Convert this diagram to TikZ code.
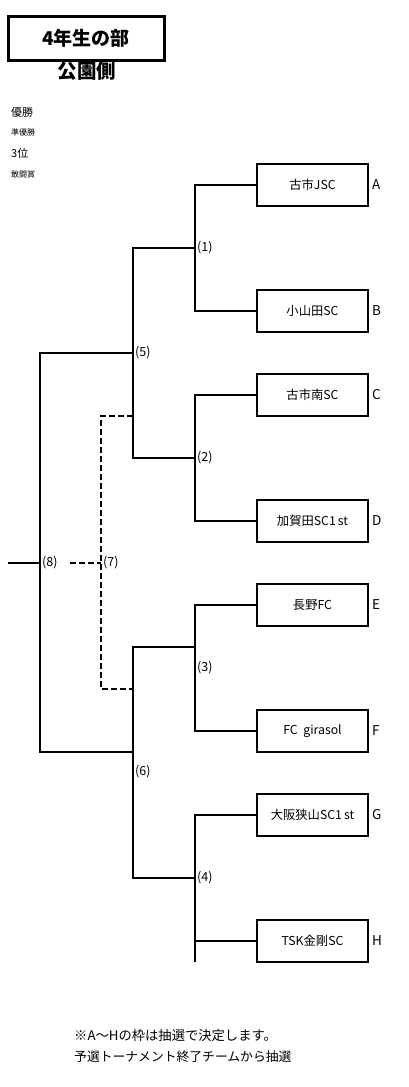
\documentclass[tikz,border=0pt]{standalone}
\usepackage{fontspec}
\setmainfont{Noto Sans CJK JP}
\begin{document}
\begin{tikzpicture}[x=1pt,y=-1pt,
  team/.style={draw,line width=1.8pt,minimum width=111pt,minimum height=42pt,inner sep=0pt,font=\fontsize{12.3}{14}\selectfont},
  letter/.style={anchor=west,inner sep=0pt,font=\fontsize{13.5}{15}\selectfont},
  rnd/.style={anchor=west,inner sep=0pt,font=\fontsize{12.5}{14}\selectfont},
  br/.style={line width=1.8pt},
  dsh/.style={line width=1.6pt,dash pattern=on 6pt off 3pt},
  side/.style={anchor=west,inner sep=0pt}]
\useasboundingbox (0,0) rectangle (409,1087);
% title
\node[draw,line width=3pt,minimum width=156pt,minimum height=44pt,inner sep=0pt,font=\fontsize{19}{21}\selectfont\bfseries] (title) at (86,38) {4年生の部};
\node[inner sep=0pt,font=\fontsize{19.5}{21}\selectfont\bfseries] (side) at (87,71) {公園側};
% legend
\node[side,font=\fontsize{11}{12}\selectfont] (l1) at (11,112) {優勝};
\node[side,font=\fontsize{8}{9}\selectfont] (l2) at (11,132) {準優勝};
\node[side,font=\fontsize{11}{12}\selectfont] (l3) at (11,153) {3位};
\node[side,font=\fontsize{8}{9}\selectfont] (l4) at (11,174) {敢闘賞};
% teams
\node[team] (A) at (312.5,185) {古市JSC};
\node[team] (B) at (312.5,311) {小山田SC};
\node[team] (C) at (312.5,395) {古市南SC};
\node[team] (D) at (312.5,521) {加賀田SC1\,st};
\node[team] (E) at (312.5,605) {長野FC};
\node[team] (F) at (312.5,731) {FC\ \ girasol};
\node[team] (G) at (312.5,815) {大阪狭山SC1\,st};
\node[team] (H) at (312.5,941) {TSK金剛SC};
\foreach \t/\y in {A/185,B/311,C/395,D/521,E/605,F/731,G/815,H/941}
  \node[letter] (L\t) at (372,\y) {\t};
% junction coordinates
\coordinate (j1) at (195,248);
\coordinate (j2) at (195,458);
\coordinate (j3) at (195,647);
\coordinate (j4) at (195,878);
\coordinate (j4b) at (195,962);
\coordinate (k5t) at (133,248);
\coordinate (k5b) at (133,458);
\coordinate (k5) at (133,353);
\coordinate (k6t) at (133,647);
\coordinate (k6b) at (133,878);
\coordinate (k6) at (133,752);
\coordinate (m8t) at (40,353);
\coordinate (m8b) at (40,752);
\coordinate (m8) at (40,563);
\coordinate (fin) at (8,563);
\coordinate (d7t) at (133,416);
\coordinate (d7b) at (133,689);
\coordinate (d7a) at (101,416);
\coordinate (d7c) at (101,689);
\coordinate (d7) at (101,563);
\coordinate (d7s) at (70,563);
% round 1
\draw[br] (A.west) -| (j1);
\draw[br] (B.west) -| (j1);
\draw[br] (C.west) -| (j2);
\draw[br] (D.west) -| (j2);
\draw[br] (E.west) -| (j3);
\draw[br] (F.west) -| (j3) ;
\draw[br] (G.west) -| (j4);
\draw[br] (H.west) -| (j4);
\draw[br] (j4) -- (j4b);
% round 2
\draw[br] (j1) -- (k5t) -- (k5b) -- (j2);
\draw[br] (j3) -- (k6t) -- (k6b) -- (j4);
% final
\draw[br] (k5) -- (m8t) -- (m8b) -- (k6);
\draw[br] (fin) -- (m8);
% third place
\draw[dsh] (d7t) -- (d7a) -- (d7c) -- (d7b);
\draw[dsh] (d7s) -- (d7);
% round labels
\node[rnd] (r1) at (197,248) {(1)};
\node[rnd] (r2) at (197,458) {(2)};
\node[rnd] (r3) at (197,668) {(3)};
\node[rnd] (r4) at (197,878) {(4)};
\node[rnd] (r5) at (135,353) {(5)};
\node[rnd] (r6) at (135,772) {(6)};
\node[rnd] (r7) at (103,563) {(7)};
\node[rnd] (r8) at (42,563) {(8)};
% footer
\node[side,font=\fontsize{13.3}{15}\selectfont] (n1) at (74,1035) {※A～Hの枠は抽選で決定します。};
\node[side,font=\fontsize{12.8}{15}\selectfont] (n2) at (74,1057) {予選トーナメント終了チームから抽選};
\end{tikzpicture}
\end{document}
